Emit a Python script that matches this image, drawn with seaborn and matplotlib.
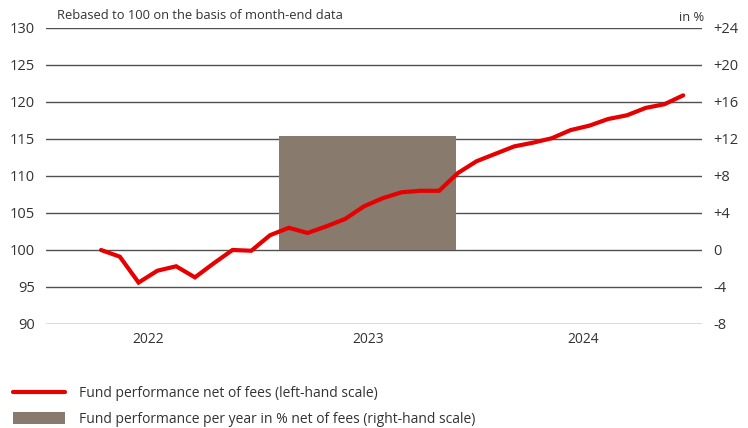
import numpy as np
import pandas as pd
import seaborn as sns
import matplotlib.pyplot as plt
from matplotlib.lines import Line2D
from matplotlib.patches import Patch

# Данные с графика (индекс, ребазированный к 100, по концам месяцев)
month_idx = np.arange(32)
fund_index = [100.0, 99.1, 95.6, 97.2, 97.8, 96.3, 98.2, 100.0, 99.9, 102.0,
              103.0, 102.3, 103.2, 104.2, 105.9, 107.0, 107.8, 108.0, 108.0, 110.4,
              112.0, 113.0, 114.0, 114.5, 115.1, 116.2, 116.8, 117.7, 118.2, 119.2,
              119.7, 120.9]
year_labels = ['2022', '2023', '2024']
annual_perf = [12.3]          # доходность за 2023 год, %
left_ticks = [90, 95, 100, 105, 110, 115, 120, 125, 130]
right_ticks = [-8, -4, 0, 4, 8, 12, 16, 20, 24]
right_tick_labels = ['-8', '-4', '0', '+4', '+8', '+12', '+16', '+20', '+24']

# Положение подписей лет и столбца по оси месяцев
year_pos = [2.5, 14.2, 25.7]
bar_center = 14.2
bar_width = 9.4

red = '#E60000'
taupe = '#887A6C'
grid_col = '#505050'
text_col = '#333333'

sns.set_theme(style='white')
plt.rcParams['font.family'] = ['Open Sans', 'DejaVu Sans']

fig = plt.figure(figsize=(7.48, 4.28), dpi=100)
ax = fig.add_axes([0.0615, 0.243, 0.877, 0.6916])
ax2 = ax.twinx()

# Столбец и сетка на правой оси, линия поверх
ax2.bar(bar_center, annual_perf[0], width=bar_width, color=taupe,
        linewidth=0, zorder=2)
ax2.set_ylim(-8, 24)
ax2.set_yticks(right_ticks)
ax2.set_yticklabels(right_tick_labels)
ax2.grid(axis='y', color=grid_col, linewidth=1.0, zorder=1)
ax2.set_axisbelow(True)

df = pd.DataFrame({'month': month_idx, 'value': fund_index})
sns.lineplot(data=df, x='month', y='value', ax=ax, color=red, linewidth=3,
             solid_joinstyle='miter')
ax.set_zorder(ax2.get_zorder() + 1)
ax.patch.set_visible(False)

ax.set_xlim(-2.93, 32.0)
ax.set_ylim(90, 130)
ax.set_yticks(left_ticks)
ax.set_xticks(year_pos)
ax.set_xticklabels(year_labels)
ax.set_xlabel('')
ax.set_ylabel('')
ax.grid(False)

for a in (ax, ax2):
    for s in a.spines.values():
        s.set_visible(False)
    a.tick_params(length=0, labelsize=10.5, colors=text_col, pad=8)
ax.tick_params(axis='x', pad=6, labelsize=10)

fig.text(0.076, 0.963, 'Rebased to 100 on the basis of month-end data',
         fontsize=9.3, color=text_col, va='center', ha='left')
fig.text(0.942, 0.958, 'in %', fontsize=9.3, color=text_col, va='center', ha='right')

handles = [Line2D([0], [0], color=red, linewidth=3),
           Patch(facecolor=taupe, edgecolor='none')]
labels = ['Fund performance net of fees (left-hand scale)',
          'Fund performance per year in % net of fees (right-hand scale)']
fig.legend(handles, labels, loc='upper left', bbox_to_anchor=(0.0, 0.127),
           frameon=False, fontsize=10, handlelength=3.8, handleheight=0.9,
           labelspacing=0.75, handletextpad=1.0, labelcolor=text_col)

fig.savefig('out.png', dpi=100)
